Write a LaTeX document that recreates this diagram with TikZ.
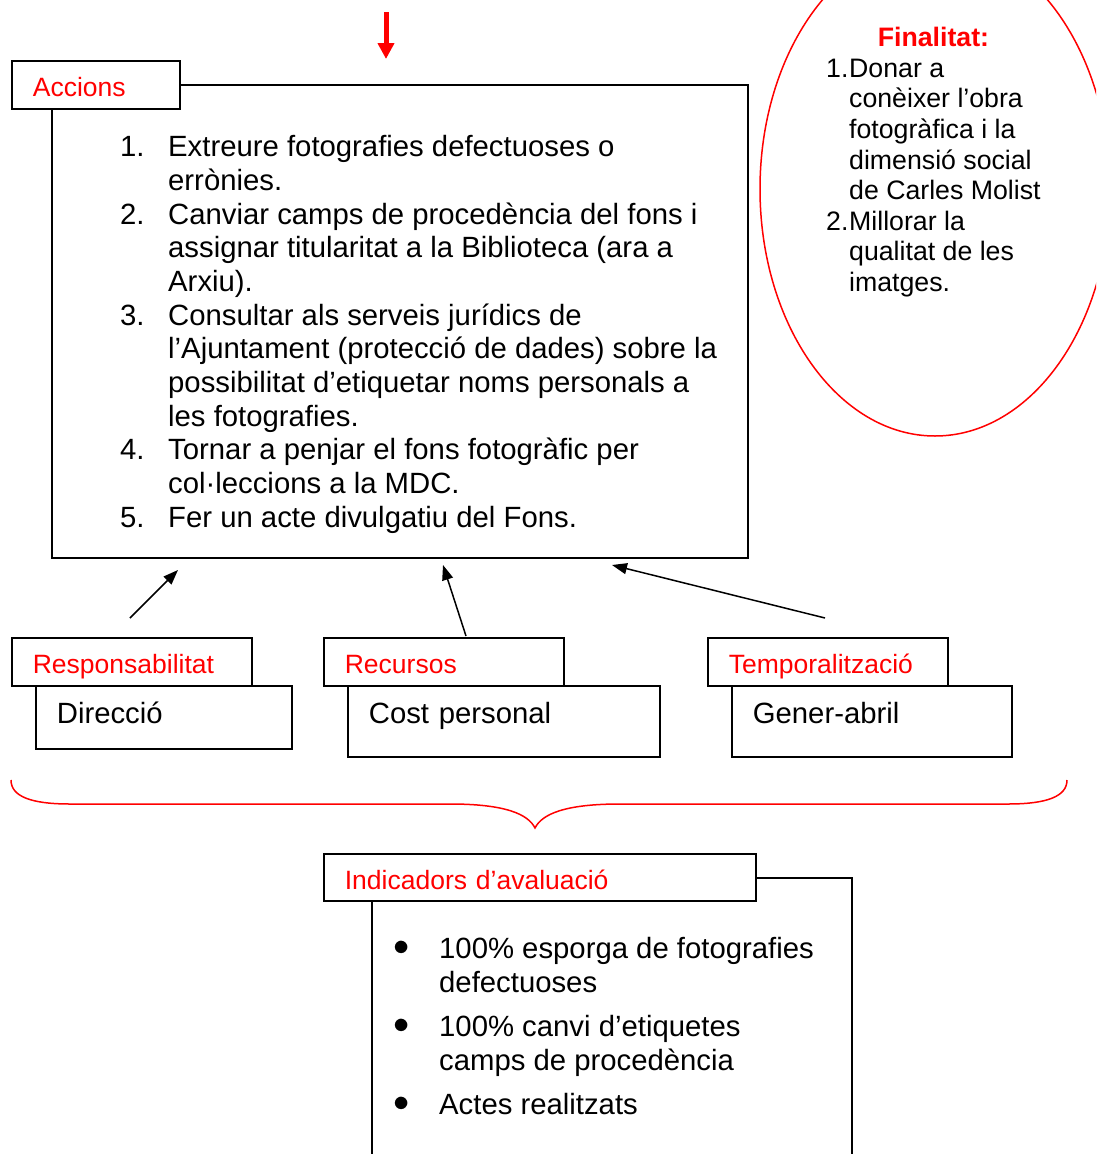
\documentclass[tikz,border=0pt]{standalone}
\usepackage{fontspec}
\setmainfont{Liberation Sans}
\usepackage{graphicx}
\usetikzlibrary{arrows.meta,shapes.geometric}

\newcommand\bodyfont{\fontsize{29.3}{33.7}\selectfont}
\newcommand\labfont{\fontsize{26.5}{30.5}\selectfont}
\newcommand\finfont{\fontsize{26.7}{30.6}\selectfont}
\newcommand\blt{\raisebox{3pt}{\scalebox{1.3}{$\bullet$}}}

\begin{document}
\begin{tikzpicture}[x=1pt, y=-1pt,
lab/.style={draw, line width=1.7pt, fill=white, text=red, font=\labfont, anchor=north west,
  inner xsep=21pt, inner ysep=0pt, text height=36pt, text depth=12pt, align=left},
cont/.style={draw, line width=1.7pt, fill=white, font=\bodyfont, anchor=north west,
  inner xsep=21pt, inner ysep=0pt, text height=38pt, text depth=33pt, align=left},
frame/.style={draw, line width=1.7pt, anchor=north west, inner sep=0pt},
arr/.style={-{Triangle[length=15pt,width=11pt]}, line width=1.5pt}]

\useasboundingbox (0,0) rectangle (1096,1154);
\clip (0,0) rectangle (1096,1154);

% accions
\node[frame, minimum width=696pt, minimum height=473pt] (acc) at (51,84) {};
\node[lab, text width=126pt] (acclab) at (11,60) {Accions};
\node[font=\bodyfont, anchor=north west, inner sep=0pt] (acclist) at (120,132.9) {%
\begin{tabular}{@{}p{48pt}@{}l@{}}
1. & Extreure fotografies defectuoses o \\
   & errònies. \\
2. & Canviar camps de procedència del fons i \\
   & assignar titularitat a la Biblioteca (ara a \\
   & Arxiu). \\
3. & Consultar als serveis jurídics de \\
   & l’Ajuntament (protecció de dades) sobre la \\
   & possibilitat d’etiquetar noms personals a \\
   & les fotografies. \\
4. & Tornar a penjar el fons fotogràfic per \\
   & col·leccions a la MDC. \\
5. & Fer un acte divulgatiu del Fons.
\end{tabular}};

\coordinate (in1) at (386,12);
\coordinate (in2) at (386,59);
\draw[red, line width=5pt, -{Triangle[length=16pt,width=16pt]}] (in1) -- (in2);

% finalitat
\node[draw=red, line width=1.5pt, ellipse, inner sep=0pt, minimum width=350pt, minimum height=494pt] (fin) at (935,189) {};
\node[font=\finfont, anchor=north west, inner sep=0pt] (finlist) at (826,25.1) {%
\begin{tabular}{@{}p{23pt}@{}l@{}}
\multicolumn{2}{@{}c@{}}{\bfseries\color{red}Finalitat:} \\
1. & Donar a \\
   & conèixer l’obra \\
   & fotogràfica i la \\
   & dimensió social \\
   & de Carles Molist \\
2. & Millorar la \\
   & qualitat de les \\
   & imatges.
\end{tabular}};

% responsabilitat, recursos, temporalitzacio
\node[cont, text width=214pt, text depth=25pt] (resp) at (35,685) {Direcció};
\node[lab, text width=198pt] (resplab) at (11,637) {Responsabilitat};
\node[cont, text width=270pt] (rec) at (347,685) {Cost personal};
\node[lab, text width=198pt] (reclab) at (323,637) {Recursos};
\node[cont, text width=238pt] (temp) at (731,685) {Gener-abril};
\node[lab, text width=198pt] (templab) at (707,637) {Temporalització};

\coordinate (r1) at (130,618);
\coordinate (a1) at (178,570);
\coordinate (r2) at (466,636);
\coordinate (a2) at (443,565);
\coordinate (r3) at (825,618);
\coordinate (a3) at (612,565);
\draw[arr] (r1) -- (a1);
\draw[arr] (r2) -- (a2);
\draw[arr] (r3) -- (a3);

% clau
\draw[red, line width=1.5pt] (11,780) .. controls (11,796) and (30,804) .. (70,804) -- (450,804)
  .. controls (505,804) and (528,814) .. (535,828)
  .. controls (542,814) and (565,804) .. (620,804) -- (1008,804)
  .. controls (1048,804) and (1067,796) .. (1067,780);

% indicadors
\node[frame, minimum width=480pt, minimum height=330pt] (ind) at (371,877) {};
\node[lab, text width=390pt, text depth=11pt] (indlab) at (323,853) {Indicadors d’avaluació};
\node[font=\bodyfont, anchor=north west, inner sep=0pt] (indlist) at (393,934.9) {%
\begin{tabular}{@{}p{46pt}@{}l@{}}
\blt & 100\% esporga de fotografies \\
     & defectuoses \\[10.3pt]
\blt & 100\% canvi d’etiquetes \\
     & camps de procedència \\[10.3pt]
\blt & Actes realitzats
\end{tabular}};

\end{tikzpicture}
\end{document}
